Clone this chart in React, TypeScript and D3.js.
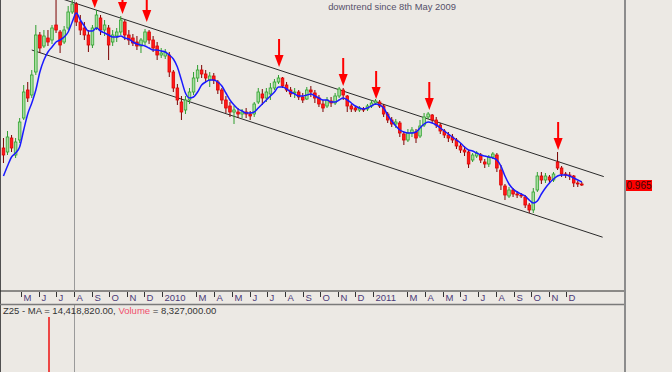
import React from "react";
import * as d3 from "d3";

// ---- data (weekly) ----
const weekStart = new Date(2009, 3, 1);
const weekEnd = new Date(2011, 11, 29);

const opens = [
  1.150, 1.130, 1.200, 1.115, 1.190, 1.300, 1.440, 1.415, 1.530, 1.715,
  1.660, 1.700, 1.690, 1.765, 1.730, 1.680, 1.750, 1.830, 1.870, 1.780,
  1.750, 1.715, 1.665, 1.750, 1.800, 1.740, 1.750, 1.680, 1.710, 1.730,
  1.780, 1.715, 1.700, 1.680, 1.660, 1.680, 1.730, 1.690, 1.660, 1.615,
  1.610, 1.615, 1.530, 1.450, 1.380, 1.340, 1.390, 1.430, 1.500, 1.540,
  1.520, 1.490, 1.510, 1.480, 1.440, 1.390, 1.360, 1.330, 1.330, 1.320,
  1.330, 1.320, 1.320, 1.380, 1.420, 1.400, 1.420, 1.450, 1.480, 1.500,
  1.465, 1.440, 1.425, 1.430, 1.405, 1.395, 1.440, 1.425, 1.400, 1.370,
  1.360, 1.385, 1.375, 1.410, 1.440, 1.410, 1.360, 1.350, 1.340, 1.345,
  1.345, 1.360, 1.375, 1.380, 1.360, 1.320, 1.290, 1.270, 1.275, 1.220,
  1.190, 1.225, 1.230, 1.210, 1.265, 1.305, 1.315, 1.290, 1.265, 1.235,
  1.215, 1.205, 1.190, 1.160, 1.140, 1.130, 1.090, 1.110, 1.115, 1.080,
  1.070, 1.105, 1.115, 1.040, 0.960, 0.910, 0.940, 0.920, 0.915, 0.905,
  0.865, 0.840, 0.940, 1.010, 0.990, 1.005, 0.990, 1.080, 1.050, 1.020,
  1.015, 1.010, 0.975, 0.970,
];
const highs = [
  1.200, 1.235, 1.215, 1.200, 1.300, 1.465, 1.480, 1.540, 1.765, 1.730,
  1.740, 1.740, 1.765, 1.890, 1.740, 1.760, 1.860, 1.890, 1.880, 1.815,
  1.780, 1.740, 1.765, 1.840, 1.815, 1.790, 1.765, 1.740, 1.750, 1.810,
  1.790, 1.740, 1.720, 1.710, 1.700, 1.745, 1.740, 1.710, 1.680, 1.650,
  1.645, 1.630, 1.540, 1.470, 1.410, 1.410, 1.450, 1.530, 1.565, 1.565,
  1.540, 1.530, 1.525, 1.490, 1.450, 1.410, 1.380, 1.360, 1.350, 1.345,
  1.350, 1.335, 1.380, 1.450, 1.445, 1.450, 1.475, 1.495, 1.515, 1.505,
  1.480, 1.455, 1.450, 1.440, 1.425, 1.455, 1.460, 1.440, 1.415, 1.390,
  1.405, 1.405, 1.425, 1.455, 1.450, 1.415, 1.370, 1.360, 1.360, 1.355,
  1.370, 1.390, 1.395, 1.390, 1.370, 1.330, 1.305, 1.295, 1.285, 1.230,
  1.245, 1.255, 1.245, 1.290, 1.325, 1.330, 1.320, 1.305, 1.275, 1.245,
  1.230, 1.220, 1.200, 1.175, 1.160, 1.140, 1.125, 1.135, 1.125, 1.095,
  1.115, 1.130, 1.125, 1.065, 0.970, 0.955, 0.950, 0.935, 0.925, 0.915,
  0.875, 0.950, 1.030, 1.030, 1.025, 1.015, 1.030, 1.130, 1.060, 1.030,
  1.030, 1.015, 0.985, 0.980,
];
const lows = [
  1.075, 1.115, 1.130, 1.100, 1.175, 1.290, 1.380, 1.400, 1.515, 1.625,
  1.650, 1.660, 1.670, 1.725, 1.625, 1.670, 1.740, 1.820, 1.760, 1.715,
  1.690, 1.630, 1.650, 1.740, 1.715, 1.710, 1.590, 1.660, 1.680, 1.715,
  1.690, 1.665, 1.660, 1.640, 1.625, 1.665, 1.670, 1.630, 1.590, 1.600,
  1.595, 1.505, 1.430, 1.365, 1.290, 1.320, 1.370, 1.415, 1.480, 1.500,
  1.480, 1.455, 1.470, 1.420, 1.370, 1.325, 1.305, 1.270, 1.300, 1.300,
  1.300, 1.290, 1.305, 1.370, 1.365, 1.380, 1.390, 1.440, 1.470, 1.450,
  1.430, 1.405, 1.400, 1.390, 1.375, 1.390, 1.405, 1.375, 1.355, 1.330,
  1.350, 1.355, 1.365, 1.400, 1.390, 1.330, 1.330, 1.330, 1.330, 1.330,
  1.335, 1.350, 1.365, 1.350, 1.305, 1.275, 1.255, 1.250, 1.205, 1.165,
  1.180, 1.205, 1.175, 1.200, 1.255, 1.295, 1.275, 1.250, 1.220, 1.200,
  1.180, 1.175, 1.145, 1.125, 1.110, 1.050, 1.080, 1.100, 1.075, 1.050,
  1.055, 1.095, 1.030, 0.940, 0.890, 0.900, 0.905, 0.900, 0.900, 0.850,
  0.825, 0.825, 0.930, 0.970, 0.975, 0.975, 0.980, 1.040, 1.005, 1.000,
  0.990, 0.955, 0.955, 0.960,
];
const closes = [
  1.115, 1.205, 1.150, 1.180, 1.280, 1.430, 1.400, 1.515, 1.715, 1.650,
  1.710, 1.680, 1.750, 1.740, 1.665, 1.740, 1.830, 1.870, 1.780, 1.740,
  1.715, 1.665, 1.750, 1.815, 1.740, 1.765, 1.665, 1.715, 1.730, 1.790,
  1.715, 1.690, 1.675, 1.660, 1.690, 1.730, 1.690, 1.650, 1.615, 1.625,
  1.630, 1.530, 1.450, 1.390, 1.330, 1.390, 1.430, 1.500, 1.540, 1.520,
  1.500, 1.510, 1.490, 1.440, 1.390, 1.350, 1.330, 1.340, 1.320, 1.330,
  1.320, 1.310, 1.370, 1.430, 1.400, 1.430, 1.450, 1.480, 1.500, 1.460,
  1.440, 1.420, 1.430, 1.405, 1.390, 1.440, 1.430, 1.400, 1.370, 1.350,
  1.390, 1.375, 1.410, 1.445, 1.415, 1.360, 1.345, 1.340, 1.350, 1.340,
  1.360, 1.375, 1.385, 1.360, 1.320, 1.290, 1.270, 1.280, 1.225, 1.190,
  1.225, 1.240, 1.200, 1.260, 1.305, 1.320, 1.290, 1.265, 1.235, 1.215,
  1.200, 1.190, 1.160, 1.140, 1.130, 1.070, 1.115, 1.125, 1.090, 1.070,
  1.105, 1.120, 1.050, 0.965, 0.915, 0.940, 0.920, 0.915, 0.910, 0.865,
  0.840, 0.930, 1.010, 0.990, 1.010, 0.990, 1.020, 1.050, 1.020, 1.015,
  1.010, 0.975, 0.970, 0.965,
];
const movingAvg = [
  1.010, 1.060, 1.105, 1.125, 1.155, 1.240, 1.320, 1.375, 1.440, 1.530,
  1.590, 1.630, 1.655, 1.680, 1.690, 1.705, 1.730, 1.780, 1.825, 1.790,
  1.760, 1.735, 1.735, 1.750, 1.735, 1.725, 1.715, 1.705, 1.705, 1.710,
  1.700, 1.695, 1.680, 1.670, 1.665, 1.660, 1.650, 1.640, 1.640, 1.635,
  1.630, 1.615, 1.595, 1.555, 1.490, 1.425, 1.400, 1.405, 1.430, 1.465,
  1.480, 1.490, 1.490, 1.480, 1.460, 1.425, 1.390, 1.365, 1.345, 1.335,
  1.325, 1.325, 1.330, 1.350, 1.370, 1.390, 1.410, 1.430, 1.455, 1.455,
  1.445, 1.430, 1.420, 1.410, 1.410, 1.415, 1.420, 1.410, 1.400, 1.390,
  1.390, 1.380, 1.380, 1.390, 1.400, 1.390, 1.375, 1.360, 1.350, 1.345,
  1.350, 1.360, 1.370, 1.365, 1.350, 1.315, 1.285, 1.260, 1.240, 1.230,
  1.225, 1.225, 1.230, 1.250, 1.270, 1.280, 1.275, 1.265, 1.250, 1.235,
  1.220, 1.205, 1.190, 1.175, 1.155, 1.140, 1.135, 1.125, 1.115, 1.110,
  1.105, 1.100, 1.090, 1.060, 1.010, 0.970, 0.945, 0.930, 0.920, 0.910,
  0.890, 0.875, 0.885, 0.920, 0.950, 0.975, 0.995, 1.010, 1.015, 1.015,
  1.010, 1.000, 0.990, 0.980,
];

// trend channel (date, price)
const upperLine = [
  { date: new Date(2009, 6, 10), price: 1.897 },
  { date: new Date(2012, 1, 4), price: 1.007 },
];
const lowerLine = [
  { date: new Date(2009, 4, 20), price: 1.64 },
  { date: new Date(2012, 1, 2), price: 0.704 },
];

// red arrows marking touches of the upper line
const arrowDates = [
  new Date(2009, 8, 6), new Date(2009, 9, 24), new Date(2009, 11, 5),
  new Date(2010, 6, 22), new Date(2010, 10, 10), new Date(2011, 0, 6),
  new Date(2011, 3, 8), new Date(2011, 10, 17),
];
const arrowTips = [1.85, 1.82, 1.78, 1.555, 1.46, 1.395, 1.34, 1.14];

const monthLetters = ["J", "F", "M", "A", "M", "J", "J", "A", "S", "O", "N", "D"];
const title = "downtrend since 8th May 2009";
const maText = "Z25 - MA = 14,418,820.00, ";
const volLabel = "Volume";
const volText = " = 8,327,000.00";
const crossDate = new Date(2009, 7, 1);
const volumeBarDate = new Date(2009, 5, 19);

export default function App() {
  const W = 672, H = 372;
  const plotR = 624, plotB = 290;
  const bg = "#ece9e4";

  const x = d3.scaleTime()
    .domain([new Date(2009, 2, 26), new Date(2012, 2, 10)])
    .range([0, plotR]);
  const y = d3.scaleLinear().domain([0.44, 1.89]).range([plotB, 0]);

  const weeks = d3.timeWednesday.range(weekStart, weekEnd);
  const n = Math.min(weeks.length, opens.length, highs.length, lows.length, closes.length);
  const bw = 2.6;

  const maLine = d3.line<number>()
    .x((_, i) => x(weeks[i]))
    .y((d) => y(d))
    .curve(d3.curveMonotoneX);
  const maPath = maLine(movingAvg.slice(0, Math.min(weeks.length, movingAvg.length))) || "";

  const months = d3.timeMonth
    .range(new Date(2009, 4, 1), new Date(2012, 0, 1))
    .filter((m) => m.getMonth() !== 1);

  const crossX = Math.round(x(crossDate)) + 0.5;
  const volX = Math.round(x(volumeBarDate));
  const fontUI = "'Liberation Sans', Arial, sans-serif";

  const lastClose = closes[closes.length - 1];

  return (
    <svg width={W} height={H} style={{ position: "fixed", left: 0, top: 0, display: "block", background: bg }}>
      <defs>
        <clipPath id="plotClip">
          <rect x={1} y={0} width={plotR - 1} height={plotB} />
        </clipPath>
      </defs>
      <rect x={0} y={0} width={W} height={H} fill={bg} />

      {/* crosshair */}
      <line x1={crossX} x2={crossX} y1={0} y2={plotB} stroke="#9a9a9a" strokeWidth={1} />
      <line x1={crossX} x2={crossX} y1={305} y2={H} stroke="#9a9a9a" strokeWidth={1} />

      <g clipPath="url(#plotClip)">
        {/* trend channel */}
        {[upperLine, lowerLine].map((ln, k) => (
          <line key={k} x1={x(ln[0].date)} y1={y(ln[0].price)} x2={x(ln[1].date)} y2={y(ln[1].price)}
            stroke="#2a2a2a" strokeWidth={1} />
        ))}

        {/* candles */}
        {d3.range(n).map((i) => {
          const cx = x(weeks[i]);
          const up = closes[i] >= opens[i];
          const top = y(Math.max(opens[i], closes[i]));
          const bot = y(Math.min(opens[i], closes[i]));
          const h = Math.max(1, bot - top);
          return (
            <g key={i}>
              <line x1={cx} x2={cx} y1={y(highs[i])} y2={y(lows[i])}
                stroke={up ? "#2f9e2f" : "#7a0000"} strokeWidth={1} />
              <rect x={cx - bw / 2} y={top} width={bw} height={h}
                fill={up ? "#a8dca0" : "#ff1a1a"} stroke={up ? "#2fa52f" : "#e00000"} strokeWidth={0.8} />
            </g>
          );
        })}

        {/* moving average */}
        <path d={maPath} fill="none" stroke="#1a1aff" strokeWidth={1.5} />

        {/* arrows */}
        {arrowDates.map((d, i) => {
          const ax = x(d);
          const tip = y(arrowTips[i]);
          return (
            <g key={i}>
              <line x1={ax} x2={ax} y1={tip - 28} y2={tip - 10} stroke="#ff0000" strokeWidth={2} />
              <path d={`M${ax - 4.5},${tip - 12} L${ax + 4.5},${tip - 12} L${ax},${tip} Z`} fill="#ff0000" />
            </g>
          );
        })}
      </g>

      {/* title */}
      <text x={392} y={10} textAnchor="middle" fontFamily={fontUI} fontSize={9.4} fill="#55506a">{title}</text>

      {/* frame */}
      <line x1={0.5} x2={0.5} y1={0} y2={H} stroke="#505050" strokeWidth={1} />
      <line x1={625} x2={625} y1={0} y2={H} stroke="#8c8c8c" strokeWidth={2} />
      <line x1={0} x2={plotR} y1={291} y2={291} stroke="#2a2a2a" strokeWidth={1} />
      <line x1={0} x2={plotR} y1={304.5} y2={304.5} stroke="#7a7a7a" strokeWidth={1.5} />

      {/* month axis */}
      {months.map((m, i) => {
        const mx = Math.round(x(m)) + 0.5;
        const label = m.getMonth() === 0 ? String(m.getFullYear()) : monthLetters[m.getMonth()];
        return (
          <g key={i}>
            <line x1={mx} x2={mx} y1={292} y2={297} stroke="#333" strokeWidth={1} />
            <text x={mx + 2} y={300.5} fontFamily={fontUI} fontSize={9.5} fill="#4a3a78">{label}</text>
          </g>
        );
      })}

      {/* last price label */}
      <rect x={626} y={180} width={26} height={11} fill="#ff0000" />
      <text x={639} y={189} textAnchor="middle" fontFamily={fontUI} fontSize={10} fill="#3a0808">
        {lastClose.toFixed(3)}
      </text>

      {/* volume panel */}
      <text x={3} y={314} fontFamily={fontUI} fontSize={9.5} fill="#333">
        {maText}<tspan fill="#f0506e">{volLabel}</tspan>{volText}
      </text>
      <line x1={volX} x2={volX} y1={317} y2={H} stroke="#ee1111" strokeWidth={1.5} />
    </svg>
  );
}
